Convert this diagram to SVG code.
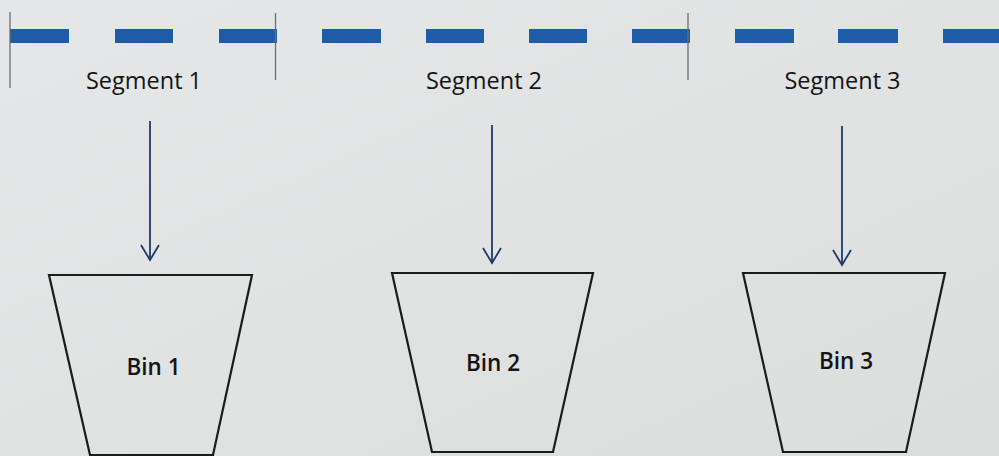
<svg xmlns="http://www.w3.org/2000/svg" width="999" height="456" viewBox="0 0 999 456">
  <defs>
    <linearGradient id="paper" x1="0" y1="0" x2="1" y2="1">
      <stop offset="0" stop-color="#e6e7e8"/>
      <stop offset="1" stop-color="#dcdddd"/>
    </linearGradient>
    <marker id="vee" viewBox="0 0 20 20" refX="18" refY="10" markerWidth="20" markerHeight="20" markerUnits="userSpaceOnUse" orient="auto">
      <path d="M3,1 L18,10 L3,19" fill="none" stroke="#1f3a66" stroke-width="1.8"/>
    </marker>
  </defs>
  <style>
    .lbl { font-family: "Open Sans", "Liberation Sans", sans-serif; font-size: 23.5px; fill: #141414; text-anchor: middle; }
    .bin-lbl { font-weight: 600; font-size: 22.5px; }
    .bin { fill: none; stroke: #1b1b1b; stroke-width: 2.2; stroke-linejoin: miter; }
    .tick { stroke: #6a6d70; stroke-width: 1.3; }
    .dash { stroke: #1e5ca8; stroke-width: 14; }
    .flow { stroke: #1f3a66; stroke-width: 1.8; fill: none; }
  </style>

  <rect width="999" height="456" fill="url(#paper)"/>

  <!-- dashed line divided into segments -->
  <g id="timeline">
    <line class="dash" x1="10" y1="36" x2="69" y2="36"/>
    <line class="dash" x1="115" y1="36" x2="173" y2="36"/>
    <line class="dash" x1="219" y1="36" x2="277" y2="36"/>
    <line class="dash" x1="322" y1="36" x2="381" y2="36"/>
    <line class="dash" x1="426" y1="36" x2="484" y2="36"/>
    <line class="dash" x1="529" y1="36" x2="587" y2="36"/>
    <line class="dash" x1="632" y1="36" x2="690" y2="36"/>
    <line class="dash" x1="735" y1="36" x2="794" y2="36"/>
    <line class="dash" x1="838" y1="36" x2="898" y2="36"/>
    <line class="dash" x1="943" y1="36" x2="1002" y2="36"/>
    <line class="tick" x1="10" y1="12" x2="10" y2="88"/>
    <line class="tick" x1="275.5" y1="13" x2="275.5" y2="80"/>
    <line class="tick" x1="688" y1="13" x2="688" y2="80"/>
  </g>

  <g id="segment1"><text class="lbl" x="144" y="89">Segment 1</text></g>
  <g id="segment2"><text class="lbl" x="484" y="89">Segment 2</text></g>
  <g id="segment3"><text class="lbl" x="842.5" y="89">Segment 3</text></g>

  <g id="bin1">
    <path class="bin" d="M49,275 H252 L213,455 H90 Z"/>
    <text class="lbl bin-lbl" x="153.5" y="375">Bin 1</text>
  </g>
  <g id="bin2">
    <path class="bin" d="M392,273 H593 L553,452 H432 Z"/>
    <text class="lbl bin-lbl" x="493" y="371">Bin 2</text>
  </g>
  <g id="bin3">
    <path class="bin" d="M743,273 H945 L906,452 H783 Z"/>
    <text class="lbl bin-lbl" x="846" y="369">Bin 3</text>
  </g>

  <g id="connectors">
    <line class="flow" x1="150" y1="121" x2="150" y2="260" marker-end="url(#vee)"/>
    <line class="flow" x1="492" y1="125" x2="492" y2="263" marker-end="url(#vee)"/>
    <line class="flow" x1="842" y1="126" x2="842" y2="265" marker-end="url(#vee)"/>
  </g>
</svg>
